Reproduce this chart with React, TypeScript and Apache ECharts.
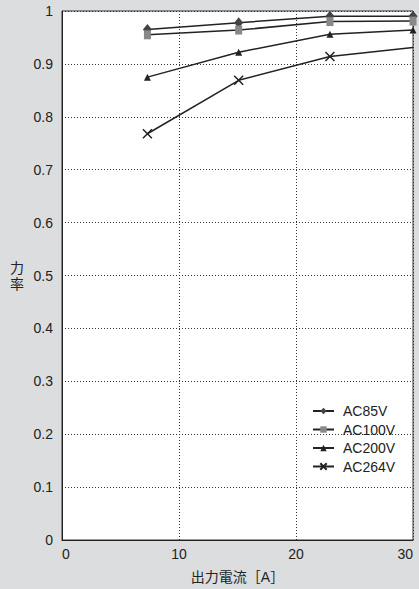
import React, { useEffect, useRef } from "react";
import * as echarts from "echarts";

const xValues = [7.3, 15.1, 22.9, 30];
const ac85 = [0.965, 0.978, 0.99, 0.99];
const ac100 = [0.955, 0.964, 0.98, 0.981];
const ac200 = [0.875, 0.922, 0.956, 0.964];
const ac264 = [0.768, 0.869, 0.914, 0.931];
const seriesNames = ["AC85V", "AC100V", "AC200V", "AC264V"];

const CROSS = "path://M0,0L10,10M10,0L0,10";

export default function App() {
  const ref = useRef<HTMLDivElement>(null);
  useEffect(() => {
    if (!ref.current) return;
    const chart = echarts.init(ref.current, null, { renderer: "svg" });
    const font = "'Liberation Sans', 'Noto Sans CJK JP', sans-serif";
    const pairs = (ys: number[]) => xValues.map((x, i) => [x, ys[i]]);
    const lineStyle = { color: "#222", width: 1.5 };
    chart.setOption({
      animation: false,
      backgroundColor: "#dcdddf",
      textStyle: { fontFamily: font },
      grid: {
        left: 62,
        right: 6,
        top: 11,
        bottom: 43,
        show: true,
        backgroundColor: "#ffffff",
        borderColor: "#333",
        borderWidth: 1,
      },
      legend: {
        orient: "vertical",
        left: 312,
        top: 403,
        padding: 0,
        itemWidth: 21,
        itemHeight: 8,
        itemGap: 2.5,
        textStyle: {
          fontSize: 14,
          lineHeight: 16,
          color: "#222",
          fontFamily: font,
          padding: [0, 0, 0, 4],
        },
        data: seriesNames,
      },
      xAxis: {
        type: "value",
        min: 0,
        max: 30,
        interval: 10,
        name: "出力電流［A］",
        nameLocation: "middle",
        nameGap: 30,
        nameTextStyle: { fontSize: 14, color: "#222", fontFamily: font },
        axisLine: { show: true, lineStyle: { color: "#222", width: 1 } },
        axisTick: { show: false },
        axisLabel: {
          fontSize: 14,
          color: "#222",
          margin: 7,
          alignMinLabel: "left",
          alignMaxLabel: "right",
        },
        splitLine: { show: true, lineStyle: { color: "#333", type: [1, 2], width: 1 } },
      },
      yAxis: {
        type: "value",
        min: 0,
        max: 1,
        interval: 0.1,
        name: "力\n率",
        nameLocation: "middle",
        nameRotate: 0,
        nameGap: 38,
        nameTextStyle: { fontSize: 14, color: "#222", fontFamily: font, lineHeight: 16 },
        axisLine: { show: true, lineStyle: { color: "#222", width: 1 } },
        axisTick: { show: false },
        axisLabel: {
          fontSize: 14,
          color: "#222",
          margin: 9,
          formatter: (v: number) => (v === 0 || v === 1 ? String(Math.round(v)) : v.toFixed(1)),
        },
        splitLine: { show: true, lineStyle: { color: "#333", type: [1, 2], width: 1 } },
      },
      series: [
        {
          name: "AC85V",
          type: "line",
          data: pairs(ac85),
          symbol: "diamond",
          symbolSize: [9, 11],
          lineStyle,
          itemStyle: { color: "#444" },
        },
        {
          name: "AC100V",
          type: "line",
          data: pairs(ac100),
          symbol: "rect",
          symbolSize: [7, 9],
          lineStyle,
          itemStyle: { color: "#888" },
        },
        {
          name: "AC200V",
          type: "line",
          data: pairs(ac200),
          symbol: "triangle",
          symbolSize: [7, 7],
          lineStyle,
          itemStyle: { color: "#222" },
        },
        {
          name: "AC264V",
          type: "line",
          data: xValues.map((x, i) =>
            i === xValues.length - 1
              ? { value: [x, ac264[i]], symbol: "none" }
              : { value: [x, ac264[i]] }
          ),
          symbol: CROSS,
          symbolSize: 9,
          lineStyle,
          itemStyle: { color: "#222", borderColor: "#222", borderWidth: 1.5 },
        },
      ],
    });
    return () => chart.dispose();
  }, []);
  return <div ref={ref} style={{ width: 419, height: 589, position: "absolute", left: 0, top: 0 }} />;
}
